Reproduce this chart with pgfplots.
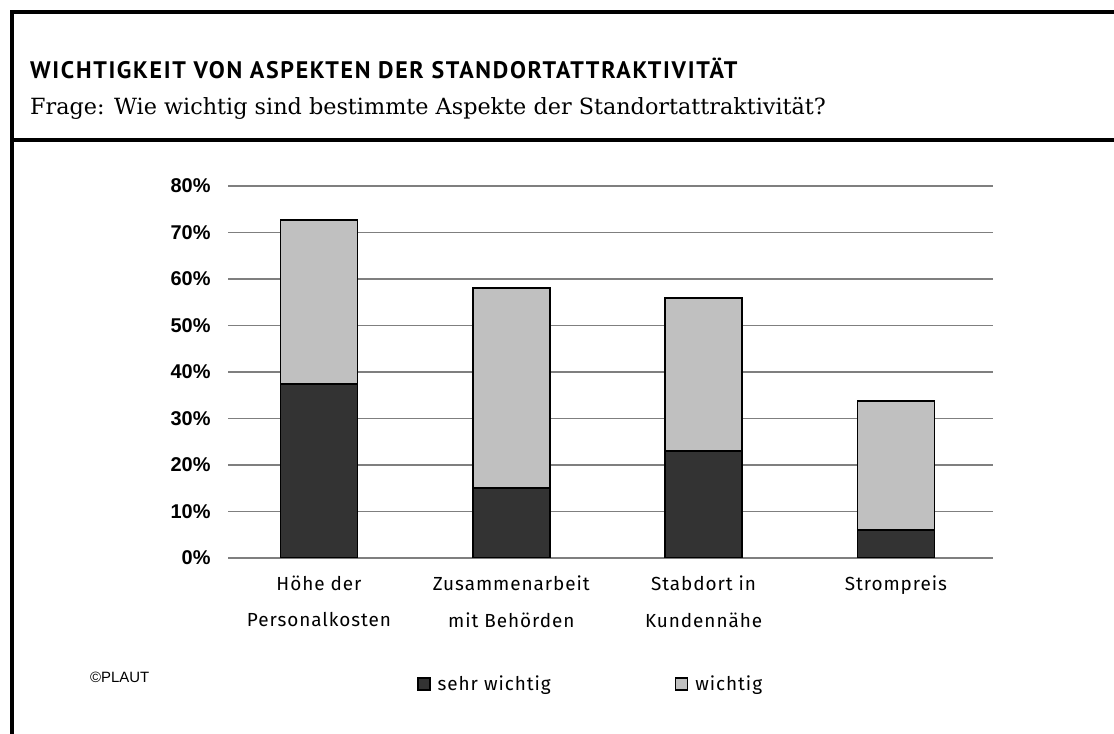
\documentclass[border=0pt]{standalone}
\usepackage{fontspec}
\usepackage{pgfplots}
\pgfplotsset{compat=1.18}
\setmainfont{Liberation Sans}
\newfontfamily\titlefont[LetterSpace=7]{PT Sans}
\newfontfamily\fragefont{DejaVu Serif}
\newfontfamily\catfont[LetterSpace=5]{Fira Sans}
\newfontfamily\tickfont{Liberation Sans}
\definecolor{dark}{HTML}{333333}
\definecolor{light}{HTML}{C0C0C0}
\definecolor{gridc}{HTML}{7F7F7F}
\begin{document}
\begin{tikzpicture}[x=1bp,y=1bp]
\useasboundingbox (0,0) rectangle (1114,734);
\fill[white] (0,0) rectangle (1114,734);
% frame
\draw[line width=3.5bp] (12,0) -- (12,722) -- (1114,722);
\draw[line width=3.5bp] (12,594) -- (1114,594);
\node[anchor=base west, inner sep=0, font=\titlefont\bfseries\fontsize{24}{28}\selectfont] at (30,655) {WICHTIGKEIT VON ASPEKTEN DER STANDORTATTRAKTIVITÄT};
\node[anchor=base west, inner sep=0, font=\fragefont\fontsize{22.4}{28}\selectfont] at (30,619) {Frage: Wie wichtig sind bestimmte Aspekte der Standortattraktivität?};
\node[anchor=west, inner sep=0, font=\fontsize{15}{17}\selectfont] at (90,57) {©PLAUT};
\begin{axis}[
  at={(228bp,176bp)}, anchor=south west,
  scale only axis, width=765bp, height=372bp,
  ybar stacked, bar width=77bp,
  xmin=-0.473, xmax=3.505,
  ymin=0, ymax=80,
  xtick={0,1,2,3},
  xticklabels={{Höhe der\\Personalkosten},{Zusammenarbeit\\mit Behörden},{Stabdort in\\Kundennähe},{Strompreis}},
  xticklabel style={align=center, font=\catfont\fontsize{19}{37}\selectfont, anchor=north, yshift=-14bp},
  ytick={0,10,20,30,40,50,60,70,80},
  yticklabels={0\%,10\%,20\%,30\%,40\%,50\%,60\%,70\%,80\%},
  yticklabel style={font=\tickfont\bfseries\fontsize{20}{22}\selectfont, xshift=-14bp},
  major tick length=0pt,
  axis line style={draw=none},
  ymajorgrids, grid style={gridc, line width=1.3bp},
  legend columns=2,
  legend style={at={(rel axis cs:0.243,-0.339)}, anchor=west, draw=none, fill=none,
    font=\catfont\fontsize{19}{22}\selectfont,
    /tikz/every even column/.append style={column sep=122bp}},
  legend image code/.code={\draw[#1, draw=black, line width=1.6bp] (0bp,-6bp) rectangle (12bp,6bp);},
]
\addplot[fill=dark, draw=black, line width=1.5bp] coordinates {(0,37.4) (1,15.1) (2,23.0) (3,6.0)};
\addplot[fill=light, draw=black, line width=1.5bp] coordinates {(0,35.3) (1,43.0) (2,32.9) (3,27.8)};
\legend{\hspace{5bp}sehr wichtig, \hspace{5bp}wichtig}
\end{axis}
\end{tikzpicture}
\end{document}
